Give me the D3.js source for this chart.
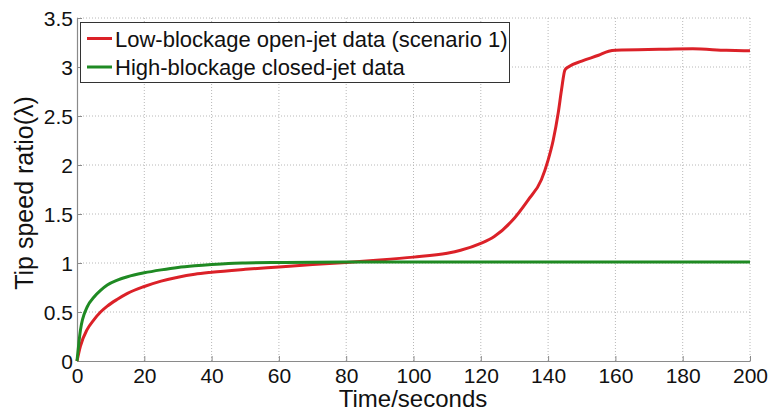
<!DOCTYPE html>
<html><head><meta charset="utf-8">
<script src="https://cdn.jsdelivr.net/npm/d3@7"></script>
<style>body{margin:0;background:#fff}svg{display:block}text{font-family:"Liberation Sans",Arial,sans-serif}</style>
</head><body>
<svg id="c" width="770" height="411"></svg>
<script>
const xTicks = [0,20,40,60,80,100,120,140,160,180,200];
const yTicks = [0,0.5,1,1.5,2,2.5,3,3.5];
const yTickLabels = ["0","0.5","1","1.5","2","2.5","3","3.5"];
const seriesNames = ["Low-blockage open-jet data (scenario 1)","High-blockage closed-jet data"];
const redT = [0,1,3,5,7,9,12,15,20,25,30,35,40,50,60,70,80,90,100,110,114,120,124,129,134,138,140,141.5,143,144,145,146,150,155,158,160,173,183,193,200];
const redV = [0,0.15,0.32,0.42,0.50,0.56,0.63,0.69,0.76,0.815,0.855,0.885,0.905,0.935,0.96,0.985,1.005,1.03,1.06,1.10,1.13,1.20,1.27,1.42,1.64,1.85,2.05,2.25,2.53,2.77,2.97,3.0,3.06,3.12,3.16,3.17,3.18,3.185,3.17,3.165];
const greenT = [0,1,3,5,7,9,12,15,20,25,30,35,40,45,50,60,80,100,120,140,160,180,200];
const greenV = [0,0.31,0.55,0.65,0.72,0.775,0.825,0.86,0.90,0.93,0.955,0.972,0.985,0.995,1.0,1.005,1.01,1.01,1.01,1.01,1.01,1.01,1.01];
const colors = ["#db2128","#1f8a23"];

const svg = d3.select("#c");
const L=77,R=750,T=18,B=361;
const x = d3.scaleLinear().domain([0,200]).range([L,R]);
const y = d3.scaleLinear().domain([0,3.5]).range([B,T]);

// grid
const g = svg.append("g");
g.selectAll(".gx").data(xTicks.slice(1)).enter().append("line")
 .attr("x1",d=>x(d)).attr("x2",d=>x(d)).attr("y1",T).attr("y2",B)
 .attr("stroke","#b8b8b8").attr("stroke-width",1).attr("stroke-dasharray","1,2");
g.selectAll(".gy").data(yTicks.slice(1)).enter().append("line")
 .attr("y1",d=>y(d)).attr("y2",d=>y(d)).attr("x1",L).attr("x2",R)
 .attr("stroke","#b8b8b8").attr("stroke-width",1).attr("stroke-dasharray","1,2");

// axes
const xa = svg.append("g").attr("transform",`translate(0,${B})`)
 .call(d3.axisBottom(x).tickValues(xTicks).tickSizeInner(-5).tickSizeOuter(0));
const ya = svg.append("g").attr("transform",`translate(${L},0)`)
 .call(d3.axisLeft(y).tickValues(yTicks).tickFormat((d,i)=>yTickLabels[i]).tickSizeInner(-5).tickSizeOuter(0));
[xa,ya].forEach(a=>{
  a.select(".domain").attr("stroke","#8a8a8a").attr("stroke-width",1.2);
  a.selectAll(".tick line").attr("stroke","#8a8a8a");
  a.selectAll("text").attr("font-size",21).attr("fill","#111").attr("font-family","Liberation Sans, Arial, sans-serif");
});
xa.selectAll(".tick text").attr("y",22).attr("dy",0);
ya.selectAll(".tick text").attr("x",-4).attr("dy","0.35em");

// lines
const line = d3.line().x(d=>x(d[0])).y(d=>y(d[1])).curve(d3.curveMonotoneX);
const redData = redT.map((t,i)=>[t,redV[i]]);
const greenData = greenT.map((t,i)=>[t,greenV[i]]);
svg.append("path").datum(redData).attr("d",line).attr("fill","none").attr("stroke",colors[0]).attr("stroke-width",3);
svg.append("path").datum(greenData).attr("d",line).attr("fill","none").attr("stroke",colors[1]).attr("stroke-width",3);

// legend
const lg = svg.append("g");
lg.append("rect").attr("x",80.5).attr("y",22.5).attr("width",429).attr("height",60)
 .attr("fill","#fff").attr("stroke","#333").attr("stroke-width",1);
seriesNames.forEach((n,i)=>{
  const ly = 38.5 + i*28.5;
  lg.append("line").attr("x1",87).attr("x2",112).attr("y1",ly).attr("y2",ly).attr("stroke",colors[i]).attr("stroke-width",3);
  lg.append("text").attr("x",115).attr("y",46.5 + i*28.5).attr("font-size",22).attr("fill","#111").text(n);
});

// axis labels
svg.append("text").attr("x",413).attr("y",407).attr("text-anchor","middle").attr("font-size",24).attr("fill","#111").text("Time/seconds");
svg.append("text").attr("transform",`translate(33,193) rotate(-90)`).attr("text-anchor","middle").attr("font-size",25).attr("fill","#111")
 .text("Tip speed ratio(λ)");
</script>
</body></html>
